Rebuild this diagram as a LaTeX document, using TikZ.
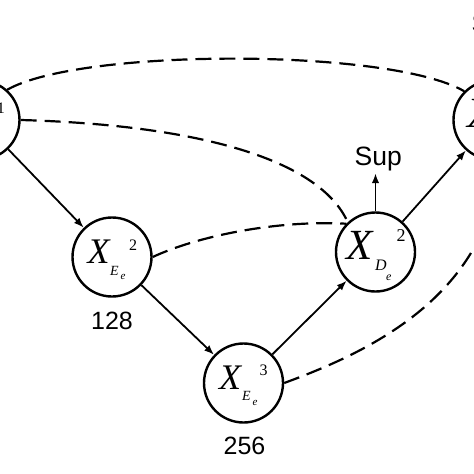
\documentclass[tikz,border=0pt]{standalone}
\usepackage{fontspec}
\setmainfont{Liberation Serif}
\newfontfamily\arialfont{Liberation Sans}
\usetikzlibrary{arrows.meta}
\tikzset{
 circ/.style={circle,draw,line width=2.4pt,minimum size=79pt,inner sep=0pt},
 conn/.style={line width=1.8pt,-{Latex[length=10pt,width=7.5pt]}},
 dashline/.style={line width=2.2pt,dash pattern=on 16pt off 8pt},
 lab/.style={inner sep=0pt,font=\arialfont\fontsize{25}{25}\selectfont},
 supl/.style={inner sep=2.5pt,anchor=base,font=\arialfont\fontsize{26.5}{26.5}\selectfont},
 bigx/.style={inner sep=0pt,font=\itshape\fontsize{36}{36}\selectfont},
 bigxd/.style={inner sep=0pt,font=\itshape\fontsize{43}{43}\selectfont},
 supn/.style={inner sep=0pt,font=\fontsize{16}{16}\selectfont},
 supnd/.style={inner sep=0pt,font=\fontsize{18}{18}\selectfont},
 subE/.style={inner sep=0pt,anchor=base west,font=\itshape\fontsize{14}{14}\selectfont},
 subEd/.style={inner sep=0pt,anchor=base west,font=\itshape\fontsize{16}{16}\selectfont},
 sube/.style={inner sep=0pt,anchor=base west,font=\itshape\fontsize{11}{11}\selectfont},
 subed/.style={inner sep=0pt,anchor=base west,font=\itshape\fontsize{12}{12}\selectfont},
}
\begin{document}
\begin{tikzpicture}[x=1pt,y=-1pt]
\useasboundingbox (0,0) rectangle (474,474);
\clip (0,0) rectangle (474,474);
\fill[white] (0,0) rectangle (474,474);
% circles
\node[circ] (L) at (-20,120) {};
\node[circ] (Ee2) at (112,257) {};
\node[circ] (Ee3) at (243.5,383) {};
\node[circ] (De2) at (375.5,252) {};
\node[circ] (R) at (493,120) {};
% contents: left (only the superscript reaches into view)
\node[supn] (Ls) at ([shift={(21,-12)}]L.center) {1};
% Ee2
\node[bigx] (Ee2x) at ([shift={(-13.5,-5.5)}]Ee2.center) {X};
\node[supn] (Ee2s) at ([shift={(21,-12)}]Ee2.center) {2};
\node[subE] (Ee2E) at ([shift={(-2,18)}]Ee2.center) {E};
\node[sube] (Ee2e) at ([shift={(8.5,22)}]Ee2.center) {e};
% Ee3
\node[bigx] (Ee3x) at ([shift={(-13.5,-5.5)}]Ee3.center) {X};
\node[supn] (Ee3s) at ([shift={(20,-13)}]Ee3.center) {3};
\node[subE] (Ee3E) at ([shift={(-1.5,17)}]Ee3.center) {E};
\node[sube] (Ee3e) at ([shift={(9,22)}]Ee3.center) {e};
% De2
\node[bigxd] (De2x) at ([shift={(-15.5,-7)}]De2.center) {X};
\node[supnd] (De2s) at ([shift={(25.5,-16)}]De2.center) {2};
\node[subEd] (De2D) at ([shift={(-0.5,18.7)}]De2.center) {D};
\node[subed] (De2e) at ([shift={(10.5,28)}]De2.center) {e};
% right (only part of the X is in view)
\node[bigxd] (Rx) at ([shift={(-12,-7)}]R.center) {X};
% labels
\node[lab] (n128) at (112,321) {128};
\node[lab] (n256) at (244.5,446) {256};
\node[supl] (Sup1) at (378.3,165) {Sup};
\node[supl,anchor=base west] (Sup2) at (469,32) {Sup};
% solid connectors
\draw[conn] (L) -- (Ee2);
\draw[conn] (Ee2) -- (Ee3);
\draw[conn] (Ee3) -- (De2);
\draw[conn] (De2) -- (R);
\draw[conn] (De2.north) -- (De2.north |- Sup1.south);
\draw[conn] (R.north) -- (R.north |- Sup2.south);
% dashed connectors
\draw[dashline] (L.48) .. controls (80,48) and (390,48) .. (R.135);
\draw[dashline] (L.0) .. controls (200,125) and (320,160) .. (De2.133);
\draw[dashline] (Ee2.0) .. controls (200,235) and (280,220) .. (De2.136);
\draw[dashline] (Ee3.0) .. controls (360,355) and (490,300) .. (R.280);
\end{tikzpicture}
\end{document}
